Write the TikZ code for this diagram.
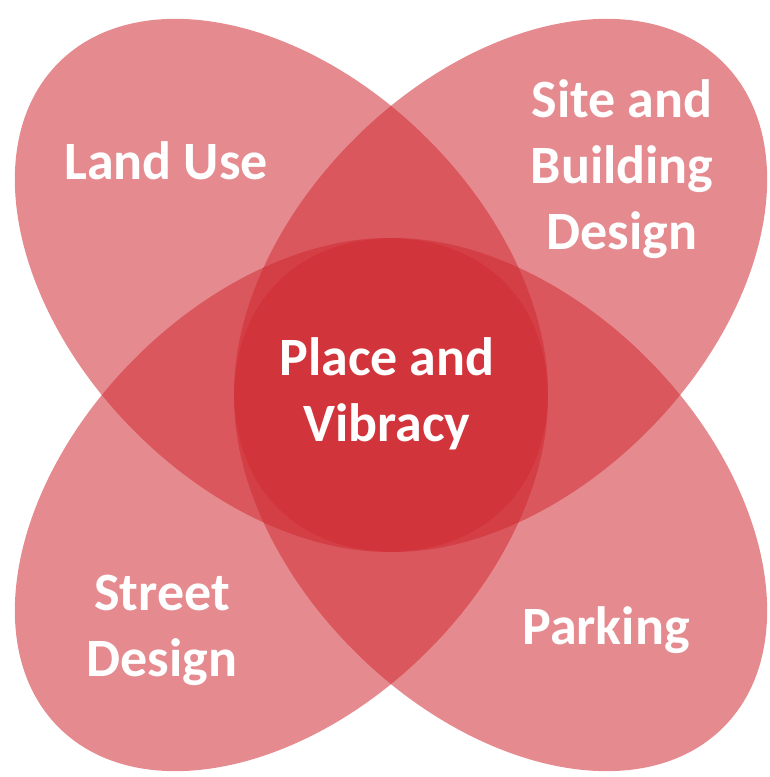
\documentclass[tikz,border=0pt]{standalone}
\usepackage{fontspec}
\setmainfont{Carlito}
\definecolor{petalred}{RGB}{208,44,52}
\tikzset{
  petal/.style={fill=petalred, fill opacity=0.55},
  lbl/.style={text=white, font=\fontsize{54}{66}\selectfont\bfseries, align=center, anchor=base, inner sep=0pt}
}
\begin{document}
\begin{tikzpicture}[x=1pt,y=1pt]
\useasboundingbox (0,0) rectangle (770,777);
\clip (0,0) rectangle (770,777);
\coordinate (ctl) at (281.4,491.6);
\coordinate (ctr) at (500.6,491.6);
\coordinate (cbl) at (281.4,272.4);
\coordinate (cbr) at (500.6,272.4);
\fill[petal, rotate around={-45:(ctl)}] (ctl) ellipse [x radius=315, y radius=207];
\fill[petal, rotate around={45:(ctr)}] (ctr) ellipse [x radius=315, y radius=207];
\fill[petal, rotate around={45:(cbl)}] (cbl) ellipse [x radius=315, y radius=207];
\fill[petal, rotate around={-45:(cbr)}] (cbr) ellipse [x radius=315, y radius=207];
\node[lbl] (landuse) at (166,597) {Land Use};
\node[lbl] (site) at (622,527) {Site and\\Building\\Design};
\node[lbl] (center) at (387,335) {Place and\\Vibracy};
\node[lbl] (street) at (162,100) {Street\\Design};
\node[lbl] (parking) at (606,132) {Parking};
\end{tikzpicture}
\end{document}
